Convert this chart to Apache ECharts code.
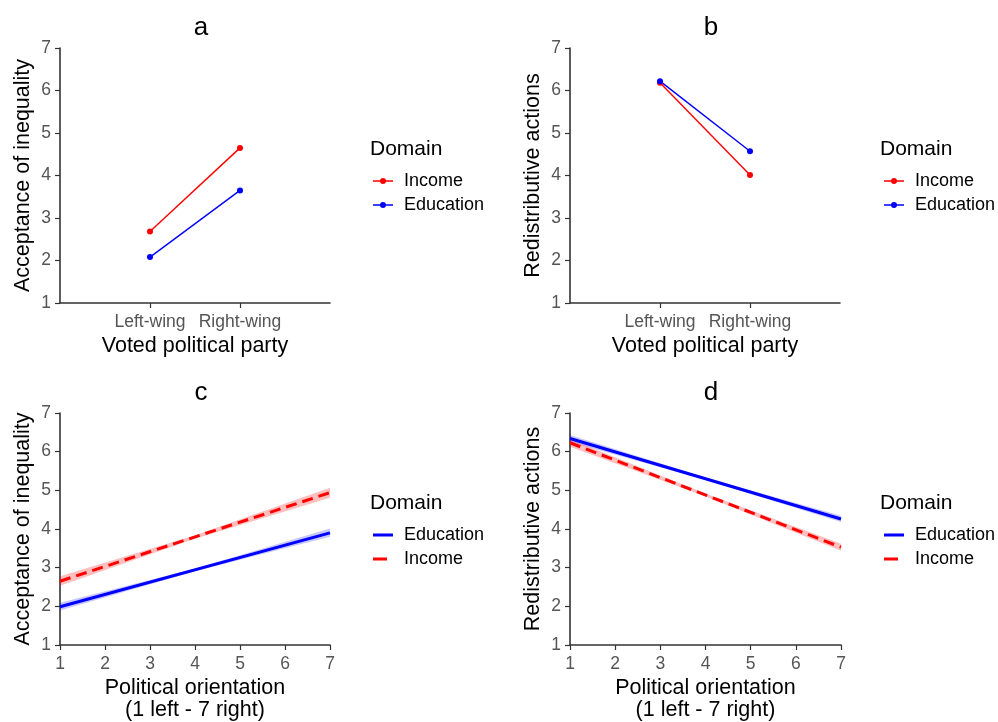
<!DOCTYPE html>
<html>
<head>
<meta charset="utf-8">
<script src="https://cdn.jsdelivr.net/npm/echarts@6/dist/echarts.min.js"></script>
<style>html,body{margin:0;padding:0;background:#fff}#c{width:998px;height:722px}</style>
</head>
<body>
<div id="c"></div>
<script>
// ---------- data ----------
const partyCats = ['Left-wing', 'Right-wing'];
const aIncome = [2.68, 4.65];
const aEducation = [2.08, 3.65];
const bIncome = [6.18, 4.01];
const bEducation = [6.22, 4.57];

const orientX = [1, 7];
const cEducation = [1.99, 3.90];
const cIncome = [2.65, 4.94];
const dEducation = [6.34, 4.26];
const dIncome = [6.23, 3.53];

const bandX = [1, 4, 7];
const cEducationLo = [1.89, 2.91, 3.80];
const cEducationHi = [2.09, 2.98, 4.01];
const cIncomeLo = [2.53, 3.75, 4.81];
const cIncomeHi = [2.78, 3.84, 5.07];
const dEducationLo = [6.25, 5.27, 4.18];
const dEducationHi = [6.43, 5.33, 4.34];
const dIncomeLo = [6.13, 4.84, 3.44];
const dIncomeHi = [6.32, 4.92, 3.62];

const yTicks = [1, 7, 1]; // min, max, interval
const orientTicks = [1, 7, 1];

// ---------- helpers ----------
const FONT = 'Liberation Sans, Arial, sans-serif';
const RED = '#ff0000', BLUE = '#0000ff';
const axisLine = {show: true, lineStyle: {color: '#333', width: 1.6}};
const axisTick = {show: true, length: 5, lineStyle: {color: '#333', width: 1.2}};
const tickLabel = {color: '#555', fontSize: 17.5, fontFamily: FONT};
const nameStyle = {color: '#000', fontSize: 21.5, fontFamily: FONT, lineHeight: 22};

const padCats = ['', ...partyCats, ''];
const pad = arr => [null, ...arr, null];
const pairs = (xs, ys) => xs.map((x, i) => [x, ys[i]]);

const grids = [
  {left: 60, top: 48, width: 270, height: 255},
  {left: 570, top: 48, width: 270, height: 255},
  {left: 60, top: 413, width: 270, height: 233},
  {left: 570, top: 413, width: 271, height: 233}
];

function catX(idx) {
  return {
    type: 'category', gridIndex: idx, data: padCats, boundaryGap: false,
    name: 'Voted political party', nameLocation: 'middle', nameGap: 32, nameTextStyle: nameStyle,
    axisLine, axisTick: Object.assign({}, axisTick, {interval: (i, v) => v !== ''}),
    axisLabel: Object.assign({}, tickLabel, {interval: (i, v) => v !== '', margin: 10}),
    splitLine: {show: false}
  };
}
function valX(idx) {
  return {
    type: 'value', gridIndex: idx, min: orientTicks[0], max: orientTicks[1], interval: orientTicks[2],
    name: 'Political orientation\n(1 left - 7 right)', nameLocation: 'middle', nameGap: 32, nameTextStyle: nameStyle,
    axisLine, axisTick, axisLabel: Object.assign({}, tickLabel, {margin: 10}), splitLine: {show: false}
  };
}
function valY(idx, name) {
  return {
    type: 'value', gridIndex: idx, min: yTicks[0], max: yTicks[1], interval: yTicks[2],
    name, nameLocation: 'middle', nameGap: 26, nameTextStyle: nameStyle,
    axisLine, axisTick, axisLabel: Object.assign({}, tickLabel, {margin: 9}), splitLine: {show: false}
  };
}

function pointLine(idx, name, color, data) {
  return {
    type: 'line', name, xAxisIndex: idx, yAxisIndex: idx, data: pad(data),
    symbol: 'circle', symbolSize: 6, showSymbol: true,
    lineStyle: {color, width: 1.4}, itemStyle: {color}, z: 3, silent: true
  };
}
function band(idx, key, color, lo, hi) {
  return {
    type: 'custom', name: key, xAxisIndex: idx, yAxisIndex: idx, silent: true, z: 1,
    data: bandX.map((x, i) => [x, lo[i], hi[i]]),
    encode: {x: 0, y: [1, 2]},
    renderItem: function (params, api) {
      if (params.dataIndex !== 0) return;
      const up = bandX.map((x, i) => api.coord([x, hi[i]]));
      const dn = bandX.map((x, i) => api.coord([x, lo[i]])).reverse();
      return {type: 'polygon', shape: {points: up.concat(dn)}, style: {fill: color}};
    }
  };
}
function fitLine(idx, name, color, data, dashed) {
  return {
    type: 'line', name, xAxisIndex: idx, yAxisIndex: idx, data: pairs(orientX, data),
    symbol: 'none', lineStyle: {color, width: 3, type: dashed ? [11, 6] : 'solid'},
    itemStyle: {color}, z: 3, silent: true
  };
}

const ICON_DOT = 'path://M0,2.3 L20,2.3 L20,3.7 L0,3.7 Z M7,3 A3,3 0 1,1 13,3 A3,3 0 1,1 7,3 Z';
const ICON_SOLID = 'path://M0,0 L20,0 L20,3 L0,3 Z';
const ICON_DASH = 'path://M0,0 L14,0 L14,3 L0,3 Z M19.95,1.45 L20,1.45 L20,1.55 L19.95,1.55 Z';

function legend(left, top, items, h) {
  return {
    orient: 'vertical', left, top, data: items, itemWidth: 20, itemHeight: h, itemGap: 6,
    selectedMode: false,
    formatter: n => n.split('|')[1],
    textStyle: {color: '#000', fontSize: 18, fontFamily: FONT, lineHeight: 18, padding: [0, 0, 0, 6]}
  };
}

const titles = [
  {text: 'a', left: 196, top: 10}, {text: 'b', left: 706, top: 10},
  {text: 'c', left: 196, top: 375}, {text: 'd', left: 706, top: 375}
].map(t => Object.assign(t, {textAlign: 'center', textStyle: {fontSize: 26, fontWeight: 'normal', color: '#000', fontFamily: FONT}}));
const domainTitles = [
  {left: 365, top: 134}, {left: 875, top: 134}, {left: 365, top: 488}, {left: 875, top: 488}
].map(t => Object.assign(t, {text: 'Domain', textStyle: {fontSize: 21, fontWeight: 'normal', color: '#000', fontFamily: FONT}}));

const option = {
  backgroundColor: '#fff',
  animation: false,
  title: titles.concat(domainTitles),
  grid: grids,
  xAxis: [catX(0), catX(1), valX(2), valX(3)],
  yAxis: [valY(0, 'Acceptance of inequality'), valY(1, 'Redistributive actions'),
          valY(2, 'Acceptance of inequality'), valY(3, 'Redistributive actions')],
  legend: [
    legend(368, 167, [{name: 'a|Income', icon: ICON_DOT}, {name: 'a|Education', icon: ICON_DOT}], 6),
    legend(879, 167, [{name: 'b|Income', icon: ICON_DOT}, {name: 'b|Education', icon: ICON_DOT}], 6),
    legend(368, 521, [{name: 'c|Education', icon: ICON_SOLID}, {name: 'c|Income', icon: ICON_DASH}], 3),
    legend(879, 521, [{name: 'd|Education', icon: ICON_SOLID}, {name: 'd|Income', icon: ICON_DASH}], 3)
  ],
  series: [
    pointLine(0, 'a|Income', RED, aIncome),
    pointLine(0, 'a|Education', BLUE, aEducation),
    pointLine(1, 'b|Income', RED, bIncome),
    pointLine(1, 'b|Education', BLUE, bEducation),
    band(2, 'cE-band', 'rgba(0,0,255,0.22)', cEducationLo, cEducationHi),
    band(2, 'cI-band', 'rgba(255,0,0,0.25)', cIncomeLo, cIncomeHi),
    band(3, 'dE-band', 'rgba(0,0,255,0.22)', dEducationLo, dEducationHi),
    band(3, 'dI-band', 'rgba(255,0,0,0.25)', dIncomeLo, dIncomeHi),
    fitLine(2, 'c|Education', BLUE, cEducation, false),
    fitLine(2, 'c|Income', RED, cIncome, true),
    fitLine(3, 'd|Education', BLUE, dEducation, false),
    fitLine(3, 'd|Income', RED, dIncome, true)
  ]
};

const chart = echarts.init(document.getElementById('c'), null, {renderer: 'canvas'});
chart.setOption(option);
</script>
</body>
</html>
